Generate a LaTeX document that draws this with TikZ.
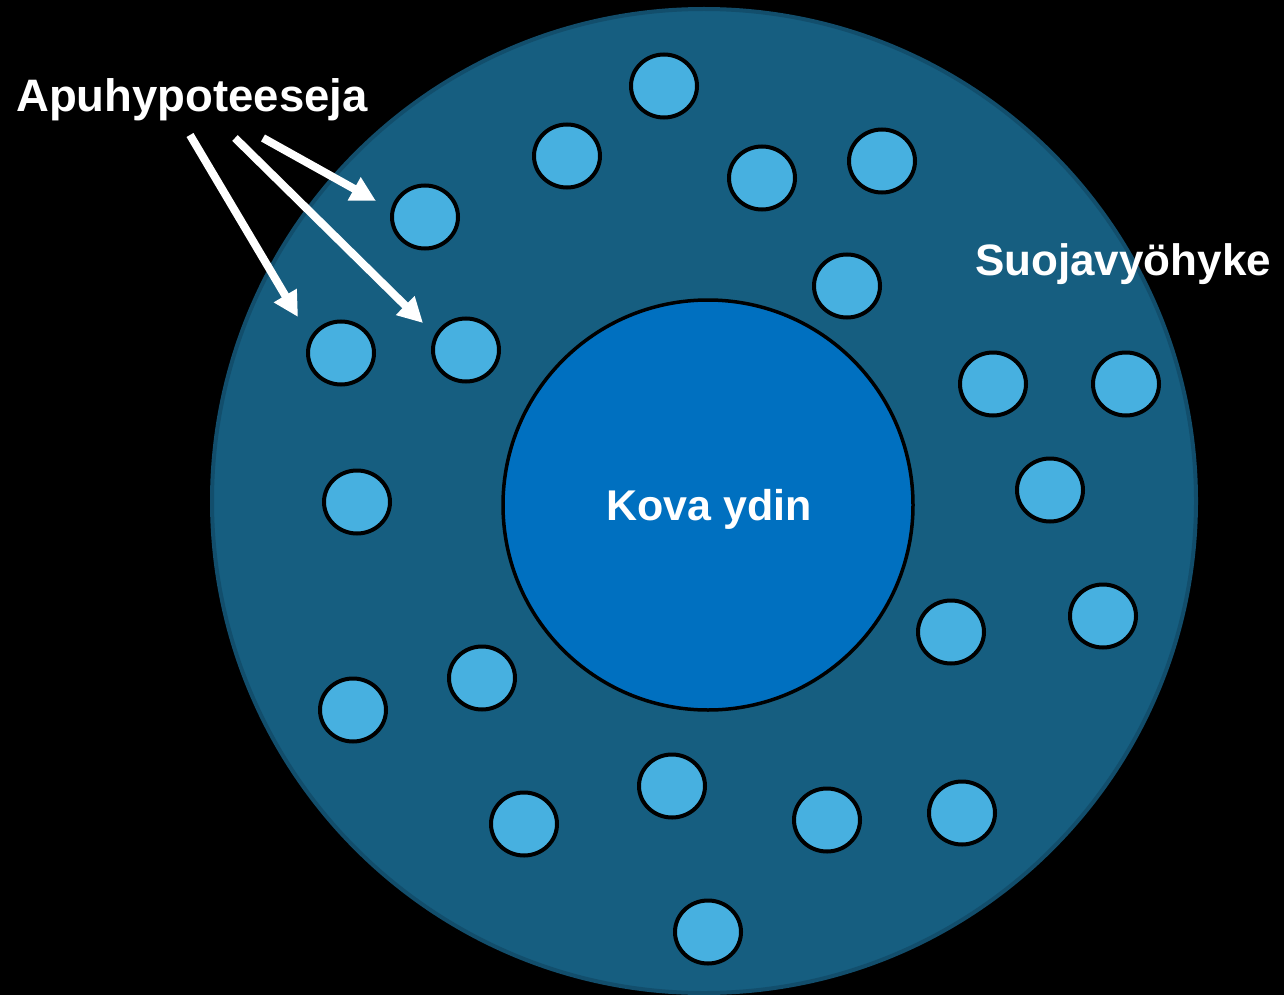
\documentclass[tikz,border=0pt]{standalone}
\usepackage{fontspec}
\setmainfont{Liberation Sans}
\usetikzlibrary{arrows.meta,shapes.geometric}
\definecolor{bgouter}{HTML}{165E80}
\definecolor{bgouterline}{HTML}{124E6C}
\definecolor{corefill}{HTML}{0070C0}
\definecolor{dotfill}{HTML}{47B0E0}
\tikzset{
  dot/.style={ellipse,draw=black,line width=4pt,fill=dotfill,minimum width=66pt,minimum height=63pt,inner sep=0pt},
  lbl/.style={text=white,font=\bfseries,inner sep=0pt,anchor=base},
  ptr/.style={draw=white,line width=8pt,-{Triangle[width=25pt,length=25pt]},fill=white}
}
\begin{document}
\begin{tikzpicture}[x=1pt,y=-1pt]
\useasboundingbox (0,0) rectangle (1284,995);
\fill[black] (0,0) rectangle (1284,995);
% outer zone
\node[circle,fill=bgouter,draw=bgouterline,line width=4pt,minimum size=984pt,inner sep=0pt] (zone) at (704,501) {};
% core
\node[circle,fill=corefill,draw=black,line width=3.5pt,minimum size=410pt,inner sep=0pt] (core) at (708,505) {};
\node[lbl,font=\bfseries\fontsize{43}{50}\selectfont] (coretext) at (709,520) {Kova ydin};
% small circles
\node[dot] (c1) at (664,86) {};
\node[dot] (c2) at (567,156) {};
\node[dot] (c3) at (762,178) {};
\node[dot] (c4) at (882,161) {};
\node[dot] (c5) at (425,217) {};
\node[dot] (c6) at (847,286) {};
\node[dot] (c7) at (341,353) {};
\node[dot] (c8) at (466,350) {};
\node[dot] (c9) at (993,384) {};
\node[dot] (c10) at (1126,384) {};
\node[dot] (c11) at (357,502) {};
\node[dot] (c12) at (1050,490) {};
\node[dot] (c13) at (951,632) {};
\node[dot] (c14) at (1103,616) {};
\node[dot] (c15) at (482,678) {};
\node[dot] (c16) at (353,710) {};
\node[dot] (c17) at (672,786) {};
\node[dot] (c18) at (524,824) {};
\node[dot] (c19) at (827,820) {};
\node[dot] (c20) at (962,813) {};
\node[dot] (c21) at (708,932) {};
% labels
\node[lbl,font=\bfseries\fontsize{45.5}{52}\selectfont] (apu) at (192,112) {Apuhypoteeseja};
\node[lbl,font=\bfseries\fontsize{44}{52}\selectfont] (suoja) at (1123,275) {Suojavyöhyke};
% arrows
\coordinate (t1) at (190,135);
\coordinate (h1) at (298,317);
\coordinate (t2) at (235,138);
\coordinate (h2) at (423,323);
\coordinate (t3) at (263,138);
\coordinate (h3) at (376,201);
\draw[ptr] (t1) -- (h1);
\draw[ptr] (t2) -- (h2);
\draw[ptr] (t3) -- (h3);
\end{tikzpicture}
\end{document}
